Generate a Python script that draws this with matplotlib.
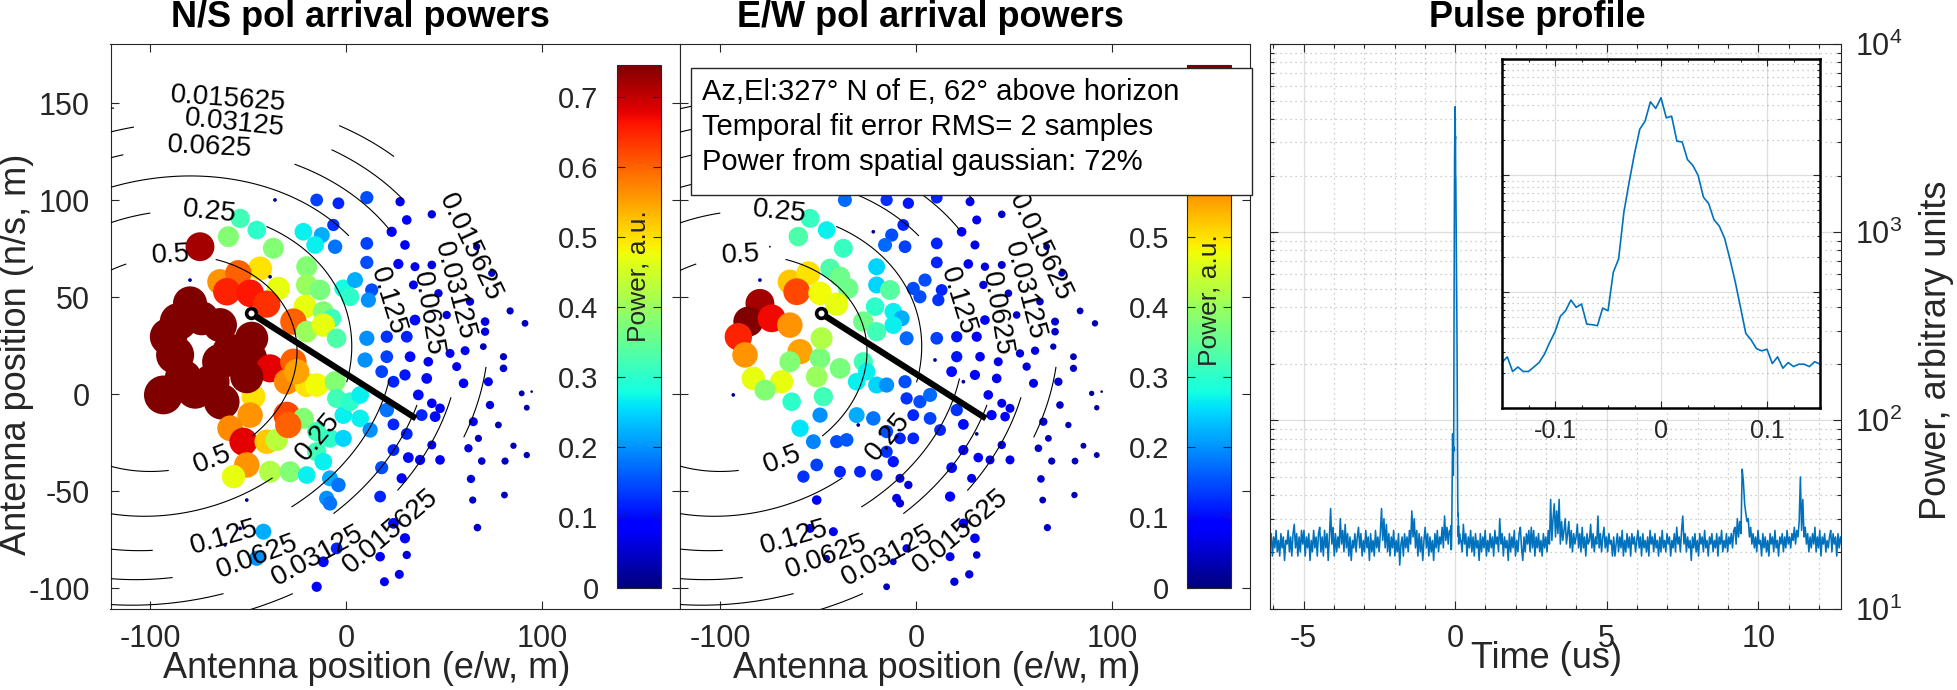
import numpy as np
import matplotlib
matplotlib.use("Agg")
import matplotlib.pyplot as plt
from matplotlib.patches import Rectangle
from matplotlib.ticker import MultipleLocator, LogLocator, NullFormatter, FixedLocator, FuncFormatter
from matplotlib.colors import Normalize
from matplotlib.cm import ScalarMappable

plt.rcParams['font.family'] = ['Liberation Sans', 'DejaVu Sans']
plt.rcParams['axes.unicode_minus'] = False
plt.rcParams['mathtext.fontset'] = 'custom'
plt.rcParams['mathtext.rm'] = 'Liberation Sans'
plt.rcParams['mathtext.it'] = 'Liberation Sans'
plt.rcParams['mathtext.default'] = 'regular'

# ---------------- data ----------------
titles = ["N/S pol arrival powers", "E/W pol arrival powers", "Pulse profile"]
info_lines = ["Az,El:327\u00b0 N of E, 62\u00b0 above horizon",
              "Temporal fit error RMS= 2 samples",
              "Power from spatial gaussian: 72%"]

# antenna positions (m) and arrival powers (a.u.) for both polarisations
ant_x = [-36.3, -15.0, -3.9, -6.5, -54.1, -60.1, -45.6, -37.1, -21.8, -12.4,
         -15.8, -5.6, -74.6, -20.1, -43.9, -38.8, -34.6, -64.4, -55.0, -60.9,
         -49.0, -40.5, -79.7, -20.1, -13.3, -1.4, -20.9, -11.6, -7.3, -26.9,
         -20.1, -11.6, -4.8,
         -79.7, -85.6, -73.7, -90.7, -87.3, -64.4, -59.2, -83.1, -68.6, -77.1,
         -93.3, -64.4, -49.0, -48.2, -63.5, -47.3, -38.8, -50.7, -30.3, -26.9,
         -20.1, -15.0, -5.6, -4.8, -25.2, -30.3, -49.0, -59.2, -52.4, -40.5,
         -35.4, -21.8, -29.5, -15.0, -8.2, -15.0, -11.6, -50.7, -57.5, -38.8,
         -28.6, -20.1, -8.2, -9.9, -50.7, -42.2, -54.1, -61.8, -45.6, -4.8,
         -11.6, -15.0, -3.9, -8.2, -1.4, -1.4, 2.0, 7.2,
         10.6, 27.6, 31.0, 43.8, 23.3, 10.6, 30.1, 26.7, 10.6, 35.2,
         43.8, 4.6, 34.4, 47.2, 13.1, 11.4, 2.0, 66.7, 74.4, 63.3,
         51.4, 71.0, 71.0, 83.8, 91.4, 70.1, 60.8, 53.1, 42.0, 32.7,
         20.8, 35.2, 31.0, 20.8, 10.6, 56.5, 80.4, 80.4, 89.7, 92.3,
         94.8, 72.7, 60.0, 41.2, 30.1, 24.2, 18.2, 73.5, 43.8, 48.0,
         45.5, 36.9, 38.6, 65.0, 77.8, 67.6, 85.5, 92.3, 62.5, 81.2,
         69.3, 48.0, 43.8, 37.8, 31.8, 31.0, 24.2, 24.2, 63.8, 64.7,
         80.9, 67.1, 28.4, 18.2, 17.4, 30.1, 24.2, 17.4, 31.0, 27.2,
         19.6, 12.3, 7.2, 20.8, 9.7]
ant_y = [100.2, 100.2, 98.5, 87.3, 90.7, 81.3, 84.7, 75.3, 83.8, 82.1,
         77.0, 76.1, 76.1, 65.8, 64.9, 60.6, 54.6, 58.0, 62.4, 52.9,
         52.1, 46.5, 58.9, 56.4, 53.8, 54.6, 45.2, 42.6, 39.2, 37.5,
         32.3, 35.7, 28.9,
         46.9, 37.5, 39.2, 29.7, 20.3, 35.7, 22.0, 8.2, 6.5, 2.2,
         -0.3, 16.8, 18.6, 28.9, -3.8, -1.2, 13.4, 9.1, 6.5, 16.8,
         4.8, 4.8, 6.5, -2.1, 11.7, -10.7, -10.7, -17.5, -24.4, -24.4,
         -23.5, -12.4, -15.8, -19.2, -22.7, -29.6, -34.7, -36.4, -42.4, -39.9,
         -39.9, -41.6, -43.3, -53.6, -54.5, -70.8, -69.1, -77.7, -84.5, -79.4,
         -86.3, -99.2, -46.7, -56.2, -22.7, -10.7, -3.8, -12.4,
         101.4, 99.3, 89.9, 92.8, 83.8, 77.8, 77.0, 67.2, 68.0, 65.8,
         66.7, 58.9, 56.4, 52.1, 53.8, 48.6, 50.3, 76.1, 62.4, 47.8,
         40.9, 37.5, 32.3, 43.0, 36.6, 24.6, 22.5, 21.1, 16.8, 19.4,
         19.4, 38.3, 29.7, 29.7, 28.9, 14.3, 19.4, 13.4, 0.5, -6.9,
         1.4, 6.5, 5.7, 8.2, 10.0, 6.5, 11.7, -5.5, -4.6, -7.2,
         -11.5, -0.3, -10.7, -14.1, -15.8, -22.7, -26.5, -31.3, -27.8, -34.4,
         -34.4, -33.8, -26.1, -33.8, -32.6, -20.4, -15.5, -28.7, -43.6, -54.5,
         -51.9, -68.7, -43.3, -37.8, -52.7, -74.2, -66.5, -83.7, -82.8, -92.8,
         -96.6, -18.4, -0.3, -8.1, 17.7]
pow_ns = [0.012, 0.14, 0.12, 0.13, 0.32, 0.38, 0.30, 0.38, 0.27, 0.22,
          0.27, 0.18, 0.72, 0.38, 0.50, 0.012, 0.47, 0.56, 0.60, 0.65,
          0.66, 0.64, 0.012, 0.40, 0.37, 0.28, 0.47, 0.38, 0.32, 0.60,
          0.40, 0.47, 0.33,
          1.00, 1.20, 1.00, 1.20, 1.25, 1.00, 1.10, 1.20, 1.10, 1.20,
          1.30, 1.10, 1.00, 0.95, 1.10, 0.50, 0.68, 0.95, 0.57, 0.60,
          0.50, 0.48, 0.38, 0.32, 0.55, 0.62, 0.56, 0.57, 0.68, 0.52,
          0.43, 0.38, 0.60, 0.32, 0.30, 0.32, 0.27, 0.56, 0.47, 0.42,
          0.38, 0.27, 0.22, 0.20, 0.012, 0.22, 0.012, 0.010, 0.20, 0.12,
          0.10, 0.09, 0.18, 0.18, 0.25, 0.27, 0.30, 0.27,
          0.15, 0.075, 0.08, 0.06, 0.09, 0.14, 0.08, 0.09, 0.15, 0.07,
          0.065, 0.22, 0.07, 0.06, 0.15, 0.20, 0.30, 0.045, 0.045, 0.06,
          0.06, 0.065, 0.06, 0.045, 0.04, 0.04, 0.07, 0.07, 0.08, 0.10,
          0.14, 0.10, 0.12, 0.13, 0.20, 0.07, 0.045, 0.05, 0.03, 0.03,
          0.006, 0.07, 0.08, 0.10, 0.11, 0.12, 0.14, 0.06, 0.08, 0.08,
          0.10, 0.10, 0.12, 0.07, 0.04, 0.045, 0.035, 0.035, 0.06, 0.045,
          0.05, 0.08, 0.07, 0.09, 0.10, 0.12, 0.12, 0.12, 0.06, 0.045,
          0.04, 0.05, 0.09, 0.15, 0.12, 0.09, 0.10, 0.08, 0.06, 0.07,
          0.07, 0.20, 0.27, 0.18, 0.20]
pow_ew = [0.17, 0.13, 0.11, 0.12, 0.31, 0.33, 0.27, 0.31, 0.012, 0.15,
          0.17, 0.14, 0.003, 0.25, 0.33, 0.36, 0.36, 0.52, 0.50, 0.62,
          0.48, 0.47, 0.012, 0.25, 0.34, 0.15, 0.30, 0.27, 0.22, 0.36,
          0.32, 0.27, 0.17,
          0.72, 0.78, 0.67, 0.65, 0.56, 0.56, 0.55, 0.47, 0.47, 0.38,
          0.012, 0.38, 0.37, 0.42, 0.30, 0.32, 0.37, 0.40, 0.27, 0.32,
          0.25, 0.20, 0.15, 0.13, 0.27, 0.22, 0.20, 0.26, 0.19, 0.15,
          0.16, 0.18, 0.012, 0.15, 0.12, 0.13, 0.11, 0.14, 0.13, 0.12,
          0.12, 0.12, 0.07, 0.07, 0.08, 0.07, 0.07, 0.010, 0.04, 0.06,
          0.04, 0.04, 0.06, 0.06, 0.12, 0.12, 0.15, 0.14,
          0.12, 0.07, 0.07, 0.05, 0.08, 0.12, 0.07, 0.08, 0.12, 0.06,
          0.055, 0.15, 0.06, 0.05, 0.12, 0.13, 0.15, 0.04, 0.04, 0.05,
          0.05, 0.055, 0.05, 0.04, 0.035, 0.035, 0.06, 0.06, 0.07, 0.08,
          0.11, 0.08, 0.09, 0.11, 0.14, 0.06, 0.04, 0.045, 0.025, 0.025,
          0.006, 0.06, 0.07, 0.08, 0.09, 0.012, 0.10, 0.05, 0.07, 0.07,
          0.08, 0.08, 0.09, 0.06, 0.035, 0.04, 0.03, 0.03, 0.05, 0.04,
          0.045, 0.07, 0.06, 0.07, 0.08, 0.012, 0.10, 0.09, 0.05, 0.04,
          0.035, 0.045, 0.07, 0.10, 0.09, 0.08, 0.08, 0.07, 0.05, 0.06,
          0.06, 0.12, 0.17, 0.13, 0.012]

# fitted spatial gaussian (model) and contour levels
gauss_center = (-92.5, 16.0)
gauss_sigma = (58.0, 46.5)      # major, minor (m)
gauss_angle_deg = 15.0
contour_levels = [0.015625, 0.03125, 0.0625, 0.125, 0.25, 0.5]
contour_label_text = ['0.015625', '0.03125', '0.0625', '0.125', '0.25', '0.5']
contour_label_spots_upper = [(-60.5, 149.7), (-57.3, 137.2), (-69.8, 125.2)]
contour_label_spots = [(61.8, 75.2), (21.0, -68.0),
                       (52.1, 52.5), (-16.5, -79.3),
                       (38.2, 41.1), (-46.6, -80.5),
                       (17.8, 46.8), (-62.7, -71.4),
                       (-70.1, 92.2), (-17.6, -19.1),
                       (-89.5, 70.6), (-69.1, -30.5)]
# arrival direction line (m)
dir_start = (-48.6, 41.8)
dir_end = (35.7, -12.4)
power_max = 0.745
cbar_ticks = [0, 0.1, 0.2, 0.3, 0.4, 0.5, 0.6, 0.7]

# pulse profile, power (a.u.)
pre_t0, pre_dt = -6.11, 0.04
pulse_pre = [22, 25, 19, 24, 21, 26, 20, 23, 19, 25,
             21, 24, 18, 23, 22, 26, 20, 24, 19, 25,
             28, 21, 25, 19, 24, 20, 26, 22, 26, 19,
             24, 21, 25, 18, 23, 20, 26, 21, 24, 19,
             25, 27, 20, 24, 19, 26, 21, 25, 18, 24,
             34, 22, 27, 19, 25, 20, 24, 21, 30, 22,
             26, 20, 28, 21, 25, 19, 24, 18, 23, 21,
             25, 20, 24, 27, 21, 25, 19, 23, 20, 26,
             21, 24, 18, 25, 20, 23, 19, 26, 21, 24,
             20, 25, 34, 23, 30, 21, 28, 20, 25, 19,
             24, 21, 26, 19, 23, 20, 25, 17, 22, 24,
             19, 25, 21, 24, 20, 26, 22, 33, 24, 30,
             21, 26, 19, 25, 20, 24, 18, 23, 27, 21,
             25, 19, 24, 20, 23, 18, 25, 21, 26, 20,
             24, 22, 27, 21, 31, 23, 27, 22, 26]
peak_t0, peak_dt = -0.15, 0.005
pulse_peak = [24.6, 27.5, 20.6, 22.5, 20.6, 20.6, 22.5, 24.6, 29.0, 36.6,
              45.2, 61.3, 68.5, 84.8, 73.3, 78.3, 52.6, 52.0, 51.0, 72.3,
              68.5, 147, 191, 483, 877, 1538, 2493, 2924, 4285, 3758,
              4642, 3120, 3226, 1963, 1936, 1365, 1219, 1000, 650, 570,
              415, 366, 288, 191, 122, 73.3, 43.8, 38.5, 32.4, 31.0,
              32.0, 24.1, 27.5, 22.0, 24.6, 22.7, 23.8, 23.8, 22.7, 25.0, 23.8]
post_t0, post_dt = 0.19, 0.04
pulse_post = [23, 20, 28, 22, 25, 19, 24, 21, 26, 20,
              24, 19, 25, 21, 23, 18, 25, 20, 24, 21,
              26, 19, 23, 20, 25, 21, 24, 19, 26, 22,
              24, 20, 30, 22, 25, 19, 24, 21, 23, 18,
              25, 20, 24, 21, 26, 19, 23, 20, 25, 27,
              21, 18, 24, 20, 25, 22, 26, 20, 27, 21,
              26, 19, 24, 21, 25, 20, 23, 19, 25, 21,
              24, 20, 26, 22, 38, 23, 30, 36, 24, 33,
              25, 38, 22, 29, 23, 26, 30, 22, 25, 29,
              21, 26, 20, 25, 22, 24, 28, 21, 25, 20,
              27, 21, 24, 19, 25, 22, 23, 28, 21, 25,
              20, 24, 22, 31, 21, 25, 20, 24, 27, 21,
              24, 20, 25, 22, 23, 19, 24, 19, 22, 25,
              20, 24, 21, 26, 19, 23, 20, 25, 21, 24,
              19, 25, 22, 24, 20, 23, 26, 21, 24, 19,
              25, 21, 23, 20, 24, 19, 26, 22, 24, 20,
              25, 21, 23, 19, 24, 20, 26, 21, 23, 20,
              25, 22, 24, 19, 23, 21, 25, 20, 27, 22,
              24, 20, 26, 31, 22, 25, 20, 24, 21, 23,
              18, 24, 21, 25, 20, 23, 19, 25, 22, 24,
              20, 26, 21, 23, 19, 24, 22, 25, 20, 23,
              21, 25, 19, 24, 22, 26, 20, 23, 21, 25,
              20, 24, 22, 25, 21, 26, 27, 22, 30, 24,
              29, 25, 55, 47, 36, 32, 29, 30, 24, 27,
              22, 25, 21, 24, 20, 26, 22, 23, 19, 25,
              21, 24, 20, 23, 19, 25, 22, 24, 20, 26,
              21, 23, 19, 24, 22, 25, 20, 24, 21, 26,
              22, 24, 21, 25, 23, 27, 22, 26, 24, 29,
              50, 26, 38, 24, 27, 22, 25, 20, 24, 21,
              25, 22, 27, 20, 24, 21, 26, 19, 24, 22,
              25, 20, 23, 21, 24, 26, 20, 25, 22, 24,
              19, 25, 21, 24, 22]

# ---------------- layout helpers ----------------
W, H = 1957, 690
fig = plt.figure(figsize=(W / 100, H / 100), dpi=100)
fig.patch.set_facecolor('white')


def box(l, t, r, b):
    return [l / W, 1 - b / H, (r - l) / W, (b - t) / H]


def fx(px):
    return px / W


def fy(py):
    return 1 - py / H


DARK = (0.15, 0.15, 0.15)
TICK_FS = 22
LABEL_FS = 26
SIZE_PER_POWER = 600.0   # marker area (pt^2) per unit power

# gaussian model surface for contours
gx = np.linspace(-260, 260, 521)
gy = np.linspace(-260, 300, 561)
GX, GY = np.meshgrid(gx, gy)
th = np.deg2rad(gauss_angle_deg)
du = (GX - gauss_center[0]) * np.cos(th) + (GY - gauss_center[1]) * np.sin(th)
dv = -(GX - gauss_center[0]) * np.sin(th) + (GY - gauss_center[1]) * np.cos(th)
GZ = np.exp(-0.5 * ((du / gauss_sigma[0]) ** 2 + (dv / gauss_sigma[1]) ** 2))
fmt = {lv: txt for lv, txt in zip(contour_levels, contour_label_text)}

norm = Normalize(0, power_max)
ax_x = np.array(ant_x)
ax_y = np.array(ant_y)

panels = [
    (box(110.5, 44, 679.5, 608.5), np.array(pow_ns), 616.6, True),
    (box(680.0, 44, 1250.3, 608.5), np.array(pow_ew), 1187.0, False),
]
xlims = [(-120.3, 170.3), (-120.5, 170.7)]
for i, (pos, pw, cb_left, first) in enumerate(panels):
    ax = fig.add_axes(pos)
    ax.set_facecolor('white')
    ax.scatter(ax_x, ax_y, s=SIZE_PER_POWER * pw, c=pw, cmap='jet', norm=norm,
               edgecolors='none', zorder=2)
    cs = ax.contour(GX, GY, GZ, levels=contour_levels, colors='k',
                    linewidths=0.8, zorder=3)
    spots = (contour_label_spots_upper if first else []) + contour_label_spots
    ax.clabel(cs, fmt=fmt, fontsize=20, inline=True, inline_spacing=6,
              manual=spots)
    ax.plot([dir_start[0], dir_end[0]], [dir_start[1], dir_end[1]], color='k',
            lw=4.5, solid_capstyle='butt', zorder=5)
    ax.plot([dir_start[0]], [dir_start[1]], marker='o', ms=7, mew=2.6,
            mec='k', mfc='white', zorder=6)
    ax.set_xlim(*xlims[i])
    ax.set_ylim(-110.4, 180.6)
    ax.set_xticks([-100, 0, 100])
    ax.set_yticks([-100, -50, 0, 50, 100, 150])
    ax.tick_params(direction='in', top=True, right=True, length=6, width=0.8,
                   labelsize=TICK_FS, colors=DARK, labelleft=first)
    ax.tick_params(axis='x', pad=11)
    ax.tick_params(axis='y', pad=15)
    for sp in ax.spines.values():
        sp.set_color(DARK)
        sp.set_linewidth(0.8)

    cax = fig.add_axes(box(cb_left, 65.1, cb_left + 44, 587.6))
    sm = ScalarMappable(norm=norm, cmap='jet')
    cb = fig.colorbar(sm, cax=cax, ticks=cbar_ticks)
    cb.outline.set_edgecolor(DARK)
    cb.outline.set_linewidth(0.8)
    # on the E/W panel the top of the colour bar sits under the info box
    shown_max = 0.75 if first else 0.55
    cax.yaxis.set_major_formatter(
        FuncFormatter(lambda v, p, m=shown_max: ('%g' % v) if v <= m else ''))
    cax.tick_params(direction='in', left=True, right=True, labelleft=True,
                    labelright=False, length=6, width=0.8, labelsize=21,
                    colors=DARK, pad=13)
    label_y = 276 if first else 300
    fig.text(fx(cb_left + 22), fy(label_y), 'Power, a.u.', rotation=90,
             ha='center', va='center', fontsize=19, color=DARK, zorder=4)

fig.text(fx(360.3), fy(17.6), titles[0], ha='center', va='center',
         fontsize=LABEL_FS, fontweight='bold')
fig.text(fx(930.9), fy(17.6), titles[1], ha='center', va='center',
         fontsize=LABEL_FS, fontweight='bold')
fig.text(fx(366.8), fy(669), 'Antenna position (e/w, m)', ha='center',
         va='center', fontsize=LABEL_FS, color=DARK)
fig.text(fx(936.8), fy(669), 'Antenna position (e/w, m)', ha='center',
         va='center', fontsize=LABEL_FS, color=DARK)
fig.text(fx(16.8), fy(354), 'Antenna position (n/s, m)', rotation=90,
         ha='center', va='center', fontsize=LABEL_FS, color=DARK)

# info box over the E/W panel
fig.add_artist(Rectangle((fx(690.8), fy(195)), (1251.9 - 690.8) / W,
                         (195 - 68.2) / H, transform=fig.transFigure,
                         facecolor='white', edgecolor=DARK, lw=1.0, zorder=6))
for k, line in enumerate(info_lines):
    fig.text(fx(702.3), fy(92.4 + 34.8 * k), line, ha='left', va='center',
             fontsize=21, color='black', zorder=7)

# ---------------- pulse profile ----------------
t_pre = pre_t0 + pre_dt * np.arange(len(pulse_pre))
t_peak = peak_t0 + peak_dt * np.arange(len(pulse_peak))
t_post = post_t0 + post_dt * np.arange(len(pulse_post))
t_all = np.concatenate([t_pre, t_peak, t_post])
p_all = np.concatenate([pulse_pre, pulse_peak, pulse_post])

LINE_C = '#0072BD'
ax3 = fig.add_axes(box(1270, 44, 1841, 608.5))
ax3.plot(t_all, p_all, color=LINE_C, lw=1.15)
ax3.set_yscale('log')
ax3.set_xlim(-6.11, 12.73)
ax3.set_ylim(10, 1e4)
ax3.xaxis.set_major_locator(FixedLocator([-5, 0, 5, 10]))
ax3.xaxis.set_minor_locator(MultipleLocator(1))
ax3.yaxis.set_major_locator(LogLocator(base=10, numticks=10))
ax3.yaxis.set_minor_locator(LogLocator(base=10, subs=np.arange(2, 10), numticks=20))
ax3.yaxis.set_minor_formatter(NullFormatter())
ax3.grid(which='major', color=DARK, alpha=0.15, lw=0.9)
ax3.grid(which='minor', color=DARK, alpha=0.3, lw=0.9, ls=(0, (1, 3)))
ax3.tick_params(which='both', direction='in', top=True, right=True, left=True,
                labelleft=False, labelright=True, colors=DARK, width=0.8)
ax3.tick_params(which='major', length=6, labelsize=TICK_FS)
ax3.tick_params(which='minor', length=3)
ax3.tick_params(axis='x', pad=11)
ax3.tick_params(axis='y', pad=10)
for sp in ax3.spines.values():
    sp.set_color(DARK)
    sp.set_linewidth(0.8)
fig.text(fx(1536.9), fy(17.6), titles[2], ha='center', va='center',
         fontsize=LABEL_FS, fontweight='bold')
fig.text(fx(1546.7), fy(658), 'Time (us)', ha='center', va='center',
         fontsize=LABEL_FS, color=DARK)
fig.text(fx(1936), fy(350), 'Power, arbitrary units', rotation=90,
         ha='center', va='center', fontsize=LABEL_FS, color=DARK)

# inset zoom on the pulse
ax4 = fig.add_axes(box(1502, 59, 1820, 408))
ax4.set_facecolor('white')
ax4.plot(t_peak, pulse_peak, color=LINE_C, lw=1.2)
ax4.set_yscale('log')
ax4.set_xlim(-0.15, 0.15)
ax4.set_ylim(10, 1e4)
ax4.set_xticks([-0.1, 0, 0.1])
ax4.xaxis.set_major_formatter(FuncFormatter(lambda v, p: '%g' % v))
ax4.xaxis.set_minor_locator(MultipleLocator(0.025))
ax4.yaxis.set_major_locator(LogLocator(base=10, numticks=10))
ax4.yaxis.set_minor_locator(LogLocator(base=10, subs=np.arange(2, 10), numticks=20))
ax4.yaxis.set_minor_formatter(NullFormatter())
ax4.grid(which='major', color=DARK, alpha=0.15, lw=0.9)
ax4.grid(which='minor', axis='y', color=DARK, alpha=0.3, lw=0.9, ls=(0, (1, 3)))
ax4.tick_params(which='both', direction='in', top=True, right=True,
                labelleft=False, colors=DARK, width=0.8)
ax4.tick_params(which='major', length=5, labelsize=18, pad=8)
ax4.tick_params(which='minor', length=2.5)
for sp in ax4.spines.values():
    sp.set_color('black')
    sp.set_linewidth(1.8)

fig.savefig('out.png', dpi=100)
